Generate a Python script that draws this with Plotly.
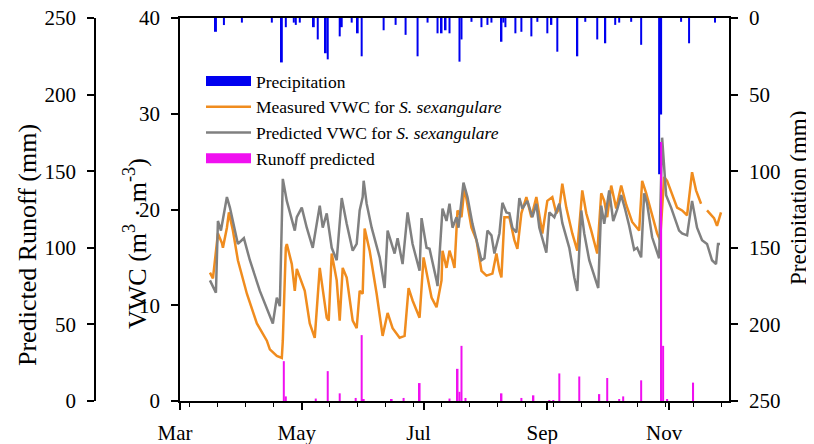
import pandas as pd
import plotly.graph_objects as go

# ---------------- data (days counted from 1 March) ----------------
start_date = "2015-03-01"

pred_days = [15, 18, 19, 20.5, 23.5, 25, 29, 32, 35, 40, 46.5, 48.5, 50, 51.5, 53.5, 56, 57.5, 58.5, 61, 63.5,
             66.5, 70, 71.5, 73.5, 76, 78.5, 81, 83.5, 86.5, 88.5, 90, 91.5, 92, 93.5, 96, 100, 102.5, 104, 107.5, 109,
             111.5, 114, 116.5, 120, 121, 123.5, 125, 128.5, 129, 131.5, 133.5, 135, 136.5, 138.5, 139.5, 142, 144, 146.5, 151, 152.5,
             154, 156, 157.5, 160, 161.5, 163.5, 165, 166.5, 168.5, 170, 171.5, 174, 176.5, 178.5, 180, 183.5, 185, 187.5, 190, 191.5,
             195, 197.5, 199, 201, 202.5, 205, 207.5, 209.5, 211, 212.5, 215, 217, 219, 221, 223, 225, 227.5, 229, 231, 232.5,
             234, 236.5, 240, 241.5, 243.5, 246, 250, 251.5, 254, 256.5, 259, 261.5, 264, 266.5, 268.5, 269.5, 270.5]
pred_vwc = [12.6, 11.3, 18.8, 17.8, 21.3, 20.2, 16.4, 17.0, 14.7, 11.5, 8.1, 10.8, 9.9, 23.2, 20.9, 18.8, 17.8, 19.2, 20.2, 18.1,
            16.0, 20.4, 18.1, 19.6, 16.0, 14.7, 21.2, 18.5, 15.7, 16.4, 19.9, 21.3, 23.0, 20.6, 18.1, 15.0, 11.8, 17.8, 15.4, 17.0,
            14.3, 19.7, 16.4, 13.6, 19.1, 16.0, 15.9, 12.6, 12.0, 20.1, 18.8, 20.6, 18.1, 19.2, 18.1, 22.8, 21.3, 18.5, 14.7, 14.9,
            17.8, 17.3, 15.4, 17.5, 20.7, 19.7, 19.6, 18.1, 17.6, 21.2, 20.1, 20.9, 19.2, 20.6, 18.1, 15.5, 19.7, 19.2, 20.6, 18.6,
            16.0, 12.9, 11.5, 19.9, 17.5, 14.7, 13.1, 11.8, 20.4, 18.5, 22.0, 18.8, 20.0, 21.5, 20.0, 18.3, 15.8, 16.0, 15.0, 21.7,
            20.6, 17.1, 14.9, 27.5, 21.5, 20.2, 17.8, 17.5, 17.3, 20.9, 18.1, 16.8, 16.4, 14.7, 14.3, 16.4, 16.4]

meas_days = [15, 16.5, 19, 21, 21.5, 23.5, 24.5, 26.5, 29, 33.5, 38.5, 43.5, 45, 48.5, 51, 51.5, 53, 53.5, 56, 57.5,
             58.5, 60, 62.5, 65, 67.5, 70, 73.5, 74.5, 76, 78.5, 80, 81.5, 83.5, 86.5, 88.5, 90, 91.5, 92.5, 95, 98.5,
             101, 101.5, 104, 106.5, 110, 112.5, 114.5, 116.5, 120, 122, 126, 128.5, 131, 131.5, 133.5, 135, 136.5, 137.5, 139, 141,
             142.5, 144, 146, 148.5, 151, 153.5, 156.5, 158.5, 160, 161, 162.5, 165, 167.5, 169, 171, 173.5, 176, 178.5, 180, 181.5,
             184, 186.5, 188.5, 190, 191.5, 193.5, 196.5, 199, 201.5, 203.5, 206, 209, 211, 212.5, 214, 216, 218.5, 221, 223.5, 226.5,
             230, 231.5, 233.5, 236, 239, 240.5, 242.5, 244, 246, 249, 251.5, 254, 256.5, 258.5, 261, 262.5, 264, 267.5, 269, 271]
meas_vwc = [13.4, 12.8, 17.5, 16.5, 16.0, 18.1, 19.7, 17.8, 14.7, 11.2, 8.1, 6.3, 5.4, 4.7, 4.5, 6.3, 16.0, 16.4, 14.3, 11.5,
            13.8, 12.9, 11.5, 8.1, 6.6, 13.9, 8.7, 8.4, 15.4, 12.6, 8.4, 13.9, 12.9, 8.4, 7.6, 11.5, 11.2, 18.0, 15.7, 11.2,
            7.3, 6.8, 9.2, 7.6, 6.6, 6.8, 11.8, 10.5, 8.7, 15.0, 10.8, 9.8, 12.6, 15.7, 13.9, 15.7, 14.7, 13.9, 19.9, 19.2,
            22.3, 20.6, 18.1, 16.8, 13.6, 13.1, 13.3, 15.4, 13.6, 12.9, 19.2, 19.2, 16.8, 15.9, 19.6, 21.3, 19.2, 21.3, 19.4, 17.5,
            20.9, 21.3, 19.6, 20.1, 22.7, 20.2, 17.5, 15.7, 22.0, 19.6, 17.8, 15.4, 21.7, 20.9, 19.2, 22.5, 20.1, 22.5, 20.5, 18.7,
            17.8, 23.0, 21.7, 19.9, 17.5, 16.8, 23.4, 23.0, 21.8, 20.2, 19.9, 19.4, 23.9, 22.0, 20.6, None, 19.9, 19.1, 18.3, 19.7]

precip_days = [18, 22, 31, 46, 51, 53, 57, 58, 60, 67, 69, 73, 74, 80, 81, 86, 89, 91, 102, 108,
               113, 119, 124, 129, 131, 133, 135, 140, 141, 146, 151, 154, 156, 161, 162, 163, 168, 171, 176, 179,
               184, 186, 189, 199, 203, 209, 213, 218, 220, 226, 231, 240, 241, 251, 255, 268]
precip_mm = [9, 4.6, 3, 3, 29, 6, 3, 4.5, 3, 6, 14, 23, 27, 12, 6, 3, 10, 25, 8, 4.5,
             11, 25, 3, 10, 10, 8, 10, 28.5, 14, 2.5, 6, 4.5, 3, 15.5, 3, 6, 10, 9, 12, 2.5,
             10, 4.5, 22, 25, 2.5, 14, 16.5, 4.5, 3, 2.5, 17.5, 102, 63, 2.5, 16.5, 3]

runoff_days = [52, 53, 68, 74, 80, 88, 91, 92, 106, 112, 120, 135, 139, 140, 141, 143, 161, 171, 177, 185,
               187, 190, 200, 210, 214, 220, 222, 231, 241, 242, 244, 257]
runoff_mm = [26, 3, 1.6, 19.5, 5, 2, 43, 1, 0.8, 2, 11.7, 1.6, 21, 6, 36, 2, 5, 2, 3.7, 0.6,
             0.6, 18, 16, 4.5, 15, 1, 3, 13.5, 169, 36, 1, 12]

month_ticks_start = "2015-03-01"
x_end_days = 275

legend_names = ["Precipitation",
                "Measured VWC for <i>S. sexangulare</i>",
                "Predicted VWC for <i>S. sexangulare</i>",
                "Runoff predicted"]

# ---------------- helpers ----------------
base = pd.Timestamp(start_date)


def to_dates(days):
    return [base + pd.Timedelta(days=d) for d in days]


DAY_MS = 86400000
PAGE_OFF = 8                    # default page body margin of the browser
W, H = 814 - PAGE_OFF, 444 - PAGE_OFF


def fx(px):                     # page pixel -> paper fraction (x)
    return (px - PAGE_OFF) / W


def fy(py):                     # page pixel -> paper fraction (y)
    return 1 - (py - PAGE_OFF) / H


XL, XR = 180, 729
YT, YB = 18, 401
FONT = "Liberation Serif"
C_ORANGE, C_GRAY, C_BLUE, C_MAGENTA = "#F08C1E", "#808080", "#0000F0", "#F010F0"

fig = go.Figure()

# legend proxies (wide swatches like the reference) for the bar series
fig.add_trace(go.Scatter(x=[None], y=[None], mode="lines", name=legend_names[0],
                         line=dict(color=C_BLUE, width=12), legendrank=1))
fig.add_trace(go.Scatter(x=to_dates(meas_days), y=meas_vwc, mode="lines", name=legend_names[1],
                         line=dict(color=C_ORANGE, width=2.5), connectgaps=False, yaxis="y", legendrank=2))
fig.add_trace(go.Scatter(x=to_dates(pred_days), y=pred_vwc, mode="lines", name=legend_names[2],
                         line=dict(color=C_GRAY, width=2.5), yaxis="y", legendrank=3))
fig.add_trace(go.Scatter(x=[None], y=[None], mode="lines", name=legend_names[3],
                         line=dict(color=C_MAGENTA, width=12), legendrank=4))
fig.add_trace(go.Bar(x=to_dates(runoff_days), y=runoff_mm, name=legend_names[3], width=DAY_MS, showlegend=False,
                     marker=dict(color=C_MAGENTA, line=dict(width=0)), yaxis="y2"))
fig.add_trace(go.Bar(x=to_dates(precip_days), y=precip_mm, name=legend_names[0], width=DAY_MS, showlegend=False,
                     marker=dict(color=C_BLUE, line=dict(width=0)), yaxis="y3"))

axis_common = dict(showline=True, linecolor="black", linewidth=1.5, ticks="outside", tickcolor="black",
                   tickwidth=1.5, showgrid=False, zeroline=False, automargin=False,
                   ticklabeloverflow="allow",
                   tickfont=dict(family=FONT, size=21, color="black"))

fig.update_layout(
    template="none",
    width=W, height=H,
    margin=dict(l=0, r=0, t=0, b=0, autoexpand=False),
    paper_bgcolor="white", plot_bgcolor="white",
    barmode="overlay",
    font=dict(family=FONT, size=20, color="black"),
    xaxis=dict(domain=[fx(XL), fx(XR)], type="date",
               range=[base, base + pd.Timedelta(days=x_end_days)],
               tickformat="%b", dtick="M2", tick0=month_ticks_start, ticklen=7,
               mirror=True, ticklabelshift=-5, ticklabelstandoff=5,
               minor=dict(ticks="outside", ticklen=4, tickwidth=1.2, tickcolor="black",
                          dtick=14 * DAY_MS, tick0="2015-05-01", showgrid=False),
               **axis_common),
    yaxis=dict(domain=[fy(YB), fy(YT)], range=[0, 40], dtick=10, ticklen=7, ticklabelstandoff=7,
               **axis_common),
    yaxis2=dict(overlaying="y", anchor="free", position=fx(95), side="left", range=[0, 250], dtick=50,
                ticklen=7, ticklabelstandoff=7, **axis_common),
    yaxis3=dict(overlaying="y", anchor="x", side="right", range=[250, 0], dtick=50, ticklen=7,
                ticklabelstandoff=7, **axis_common),
    legend=dict(x=fx(201), y=fy(63), xanchor="left", yanchor="top", bgcolor="rgba(0,0,0,0)",
                font=dict(family=FONT, size=17.5, color="black"), tracegroupgap=0, itemwidth=45,
                traceorder="normal"),
)

titles = [
    ("Predicted Runoff (mm)", 27, 245, 26),
    ("VWC (m<sup>3</sup> · m<sup>-3</sup>)", 135, 243, 26),
    ("Precipitation (mm)", 799, 198, 23),
]
for text, px, py, size in titles:
    fig.add_annotation(text=text, x=fx(px), y=fy(py), xref="paper", yref="paper",
                       textangle=-90, showarrow=False, xanchor="center", yanchor="middle",
                       font=dict(family=FONT, size=size, color="black"))

fig.write_html("out.html")
